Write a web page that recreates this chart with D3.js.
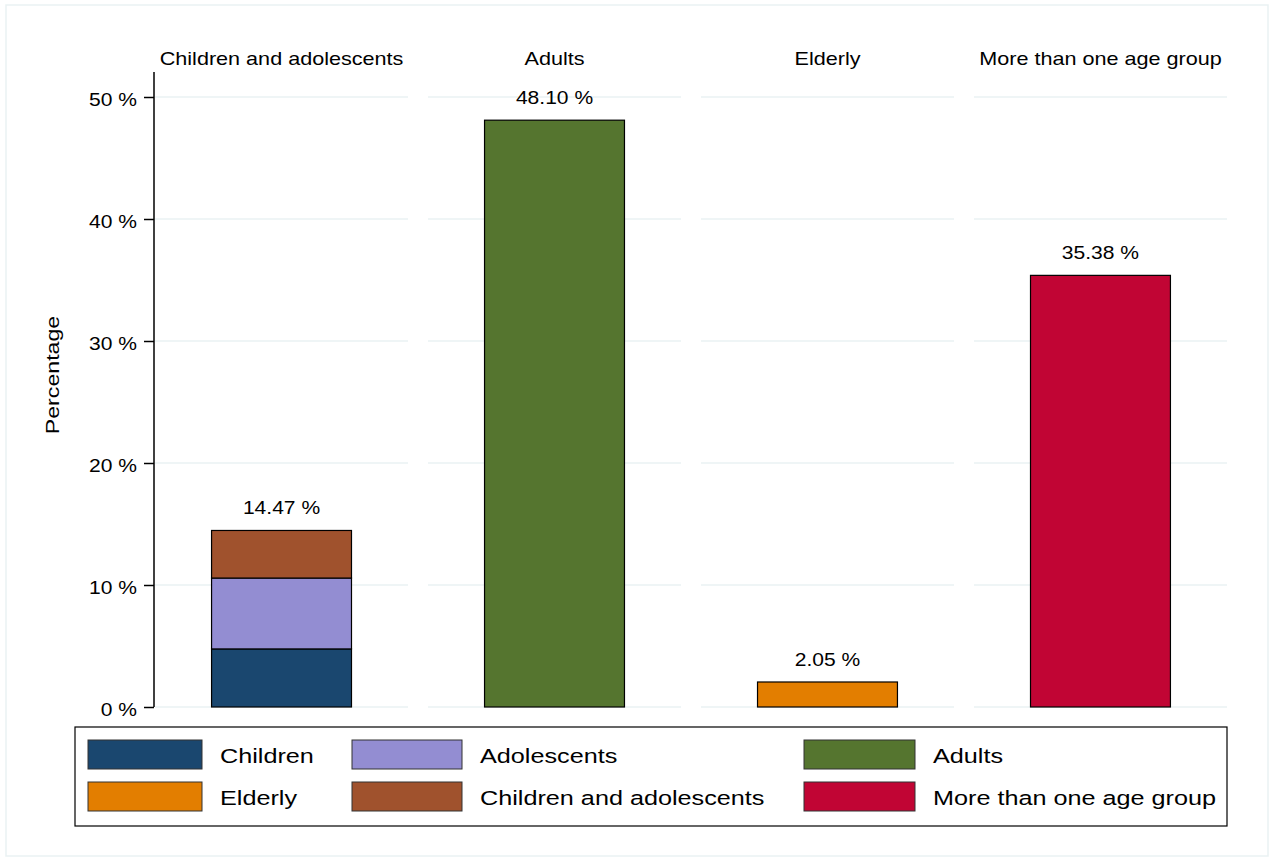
<!DOCTYPE html>
<html>
<head>
<meta charset="utf-8">
<script src="https://cdn.jsdelivr.net/npm/d3@7"></script>
<style>
  html, body { margin: 0; padding: 0; background: #fff; }
  svg { display: block; font-family: Arial, "Liberation Sans", sans-serif; }
</style>
</head>
<body>
<svg id="chart" width="1274" height="860"></svg>
<script>
// ---- data ----
const categories = ["Children and adolescents", "Adults", "Elderly", "More than one age group"];
const seriesNames = ["Children", "Adolescents", "Children and adolescents", "Adults", "Elderly", "More than one age group"];
const children      = [4.76, 0, 0, 0];
const adolescents   = [5.81, 0, 0, 0];
const childAdol     = [3.90, 0, 0, 0];
const adults        = [0, 48.10, 0, 0];
const elderly       = [0, 0, 2.05, 0];
const multiGroup    = [0, 0, 0, 35.38];
const yTicks = [0, 10, 20, 30, 40, 50];
const legendOrder = ["Children", "Adolescents", "Adults", "Elderly", "Children and adolescents", "More than one age group"];
const colors = {
  "Children": "#1a476f",
  "Adolescents": "#938dd2",
  "Children and adolescents": "#a0522d",
  "Adults": "#55752f",
  "Elderly": "#e37e00",
  "More than one age group": "#c10534"
};

const seriesValues = {
  "Children": children,
  "Adolescents": adolescents,
  "Children and adolescents": childAdol,
  "Adults": adults,
  "Elderly": elderly,
  "More than one age group": multiGroup
};

const table = categories.map((c, i) => {
  const row = { category: c };
  seriesNames.forEach(s => row[s] = seriesValues[s][i]);
  return row;
});

const svg = d3.select("#chart");

// helper: horizontally stretched text (reference font is rendered wide)
function wideText(g, x, y, txt, size, sx, anchor) {
  return g.append("text")
    .attr("transform", `translate(${x},${y}) scale(${sx},1)`)
    .attr("text-anchor", anchor || "start")
    .attr("font-size", size).attr("fill", "#000")
    .text(txt);
}

// outer faint frame
svg.append("rect").attr("x", 6).attr("y", 5).attr("width", 1262).attr("height", 851)
  .attr("fill", "#fff").attr("stroke", "#eaf2f3").attr("stroke-width", 1.5);

const plotTop = 72, plotBottom = 707;
const x = d3.scaleBand().domain(categories).range([155, 1227]).paddingInner(0.073).paddingOuter(0);
const y = d3.scaleLinear().domain([0, 50]).range([plotBottom, 97]);
const barFrac = 0.553;

// panels: gridlines + headers
categories.forEach(c => {
  const x0 = x(c), bw = x.bandwidth();
  const g = svg.append("g");
  g.selectAll("line.grid").data(yTicks).join("line")
    .attr("x1", x0).attr("x2", x0 + bw)
    .attr("y1", d => y(d)).attr("y2", d => y(d))
    .attr("stroke", "#eaf2f3").attr("stroke-width", 1.5);
  wideText(g, x0 + bw / 2, 65, c, 18, 1.2, "middle");
});

// stacked bars
const stack = d3.stack().keys(seriesNames);
const stacked = stack(table);
const bw = x.bandwidth() * barFrac;
stacked.forEach(layer => {
  svg.append("g").selectAll("rect").data(layer.filter(d => d[1] - d[0] > 0)).join("rect")
    .attr("x", d => x(d.data.category) + (x.bandwidth() - bw) / 2)
    .attr("width", bw)
    .attr("y", d => y(d[1]))
    .attr("height", d => y(d[0]) - y(d[1]))
    .attr("fill", colors[layer.key])
    .attr("stroke", "#000").attr("stroke-width", 1.2);
});

// total labels
const fmt = d3.format(".2f");
const lblG = svg.append("g");
table.forEach(d => {
  const tot = d3.sum(seriesNames, s => d[s]);
  wideText(lblG, x(d.category) + x.bandwidth() / 2, y(tot) - 16, fmt(tot) + " %", 18, 1.17, "middle");
});

// y axis
const axis = d3.axisLeft(y).tickValues(yTicks).tickSize(10).tickPadding(0).tickFormat(d => d + " %");
const ag = svg.append("g").attr("transform", "translate(154,0)").call(axis);
ag.select(".domain").attr("d", `M0,${plotTop}V${plotBottom}`).attr("stroke", "#000").attr("stroke-width", 1.5);
ag.selectAll(".tick line").attr("stroke", "#000").attr("stroke-width", 1.5);
ag.selectAll(".tick text")
  .attr("x", 0).attr("dy", null).attr("y", 0)
  .attr("transform", "translate(-17,8) scale(1.17,1)")
  .attr("font-size", 18).attr("fill", "#000")
  .attr("font-family", "Arial, 'Liberation Sans', sans-serif");

svg.append("text").attr("transform", "translate(59,375) rotate(-90) scale(1.22,1)")
  .attr("text-anchor", "middle").attr("font-size", 19).attr("fill", "#000").text("Percentage");

// legend
const lg = svg.append("g");
lg.append("rect").attr("x", 75).attr("y", 727).attr("width", 1152).attr("height", 99)
  .attr("fill", "#fff").attr("stroke", "#000").attr("stroke-width", 1.2);
const colX = [88, 352, 804];
const rowY = [740, 782];
const swW = [114, 110, 111];
legendOrder.forEach((name, i) => {
  const col = i % 3, row = Math.floor(i / 3);
  lg.append("rect").attr("x", colX[col]).attr("y", rowY[row]).attr("width", swW[col]).attr("height", 29)
    .attr("fill", colors[name]).attr("stroke", "#333").attr("stroke-width", 1);
  wideText(lg, colX[col] + swW[col] + 18, rowY[row] + 23, name, 20.5, 1.23, "start");
});
</script>
</body>
</html>
